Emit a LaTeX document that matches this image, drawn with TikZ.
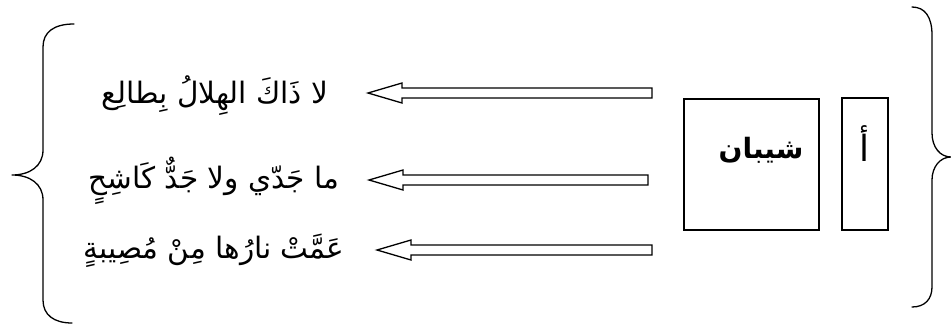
\documentclass[tikz,border=0pt]{standalone}
\usepackage{fontspec}
\usetikzlibrary{calc}
\TeXXeTstate=1
\newfontfamily\arabicfont[Script=Arabic]{DejaVu Sans}

\tikzset{
  brace/.style={line width=1.3pt, line join=round, line cap=round},
  boxline/.style={draw, line width=1.3pt},
  arrowline/.style={draw, line width=1.3pt, line join=miter, fill=white},
  verse/.style={inner sep=0pt, font=\arabicfont\fontsize{29.5}{34}\selectfont},
}

% hollow double-lined arrow from a tail coordinate to a tip coordinate
\newcommand\hollowarrow[2]{%
  \path[arrowline] let \p1=(#1), \p2=(#2) in
    (\x1,{\y1+5pt}) -- ({\x2+34pt},{\y1+5pt}) -- ({\x2+34pt},{\y1+10pt})
    -- (\x2,\y2) -- ({\x2+34pt},{\y1-10pt}) -- ({\x2+34pt},{\y1-5pt})
    -- (\x1,{\y1-5pt}) -- cycle;}

\begin{document}
\begin{tikzpicture}[x=1pt,y=1pt]
  \useasboundingbox (0,0) rectangle (951,325);

  % the three verse fragments
  \node[verse] (l1) at (215,229) {\beginR لا ذَاكَ الهِلالُ بِطالِع\endR};
  \node[verse] (l2) at (214,144) {\beginR ما جَدّي ولا جَدٌّ كَاشِحٍ\endR};
  \node[verse] (l3) at (214,74)  {\beginR عَمَّتْ نارُها مِنْ مُصِيبةٍ\endR};

  % the two boxes
  \path[boxline] (684,95) rectangle (819,226);
  \node[inner sep=0pt, font=\arabicfont\bfseries\fontsize{28}{32}\selectfont] (sh) at (761,175) {\beginR شيبان\endR};
  \path[boxline] (842,95) rectangle (888,227);
  \node[inner sep=0pt, font=\arabicfont\fontsize{36}{40}\selectfont] (alef) at (864,181) {\beginR أ\endR};

  % arrow end points
  \coordinate (t1) at (652,232); \coordinate (h1) at (368,232);
  \coordinate (t2) at (648,145); \coordinate (h2) at (369,145);
  \coordinate (t3) at (652,75);  \coordinate (h3) at (377,75);
  \hollowarrow{t1}{h1}
  \hollowarrow{t2}{h2}
  \hollowarrow{t3}{h3}

  % left brace
  \draw[brace] (74,301) .. controls (54,301) and (43,293) .. (43,278)
    -- (43,175) .. controls (43,159) and (30,150) .. (12,150)
    .. controls (30,150) and (43,141) .. (43,125)
    -- (43,25) .. controls (43,10) and (54,2) .. (72,2);

  % right brace
  \draw[brace] (912,318) .. controls (925,318) and (932,308) .. (932,290)
    -- (932,192) .. controls (932,178) and (940,168) .. (951,168)
    .. controls (940,168) and (932,158) .. (932,145)
    -- (932,38) .. controls (932,26) and (925,18) .. (912,18);
\end{tikzpicture}
\end{document}
